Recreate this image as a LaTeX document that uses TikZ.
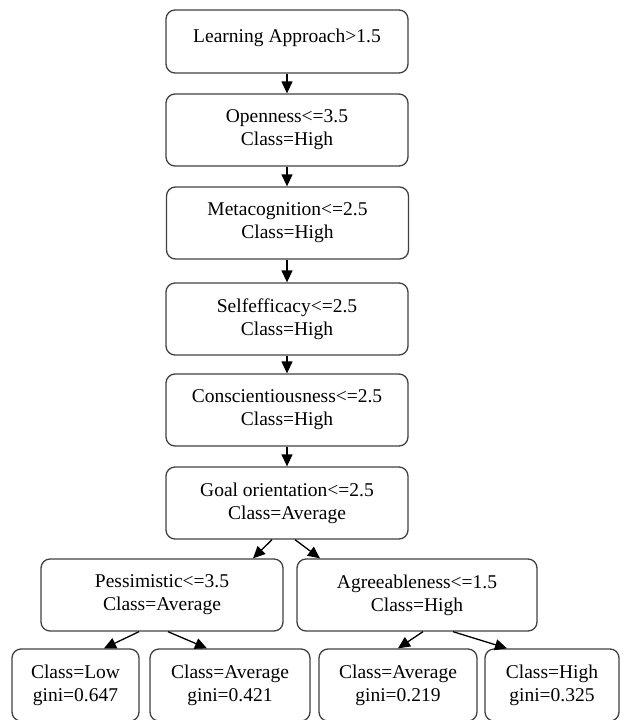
\documentclass[tikz,border=0pt]{standalone}
\usepackage{fontspec}
\setmainfont{Liberation Serif}
\usetikzlibrary{arrows.meta}
\newcommand\firstlinestrut{\rule{0pt}{17.5pt}}
\begin{document}
\begin{tikzpicture}[x=1pt,y=-1pt,
  font=\fontsize{19.5}{23}\selectfont,
  box/.style={draw=black!75, line width=1.3pt, rounded corners=9pt,
    inner sep=0pt, align=center, minimum height=72pt,
    execute at begin node=\firstlinestrut},
  bigbox/.style={box, minimum width=242pt},
  arr/.style={draw=black, line width=1.3pt,
    -{Triangle[length=12pt,width=11pt]}}]
\useasboundingbox (0,0) rectangle (626,720);
\clip (0,0) rectangle (626,720);

% split chain
\node[bigbox, minimum height=63pt] (n1) at (287,41.5) {};
\node (t1) at ([yshift=4pt]n1.center) {Learning Approach>1.5};
\node[bigbox] (n2) at (287,130) {Openness<=3.5\\Class=High};
\node[bigbox] (n3) at (287.5,223) {Metacognition<=2.5\\Class=High};
\node[bigbox] (n4) at (287,319) {Selfefficacy<=2.5\\Class=High};
\node[bigbox] (n5) at (287,410) {Conscientiousness<=2.5\\Class=High};
\node[bigbox] (n6) at (287,503) {Goal orientation<=2.5\\Class=Average};

% second level
\node[bigbox] (n7) at (162,595) {Pessimistic<=3.5\\Class=Average};
\node[box, minimum width=240pt] (n8) at (417,595) {Agreeableness<=1.5\\Class=High};

% leaves
\node[box, minimum width=127pt] (l1) at (75.5,685) {Class=Low\\gini=0.647};
\node[box, minimum width=160pt] (l2) at (230,685) {Class=Average\\gini=0.421};
\node[box, minimum width=158pt] (l3) at (398,685) {Class=Average\\gini=0.219};
\node[box, minimum width=134pt] (l4) at (552,685) {Class=High\\gini=0.325};

% connectors
\draw[arr] (n1.south) -- (n2.north);
\draw[arr] (n2.south) -- (n3.north -| n2.south);
\draw[arr] (n3.south -| n2.south) -- (n4.north);
\draw[arr] (n4.south) -- (n5.north);
\draw[arr] (n5.south) -- (n6.north);
\draw[arr] ([xshift=-15pt]n6.south) -- ([xshift=91pt]n7.north);
\draw[arr] ([xshift=8pt]n6.south) -- ([xshift=-97pt]n8.north);
\draw[arr] ([xshift=-23pt]n7.south) -- ([xshift=28.5pt]l1.north);
\draw[arr] ([xshift=6pt]n7.south) -- ([xshift=-23pt]l2.north);
\draw[arr] ([xshift=6pt]n8.south) -- (l3.north);
\draw[arr] ([xshift=36pt]n8.south) -- ([xshift=-45pt]l4.north);
\end{tikzpicture}
\end{document}
